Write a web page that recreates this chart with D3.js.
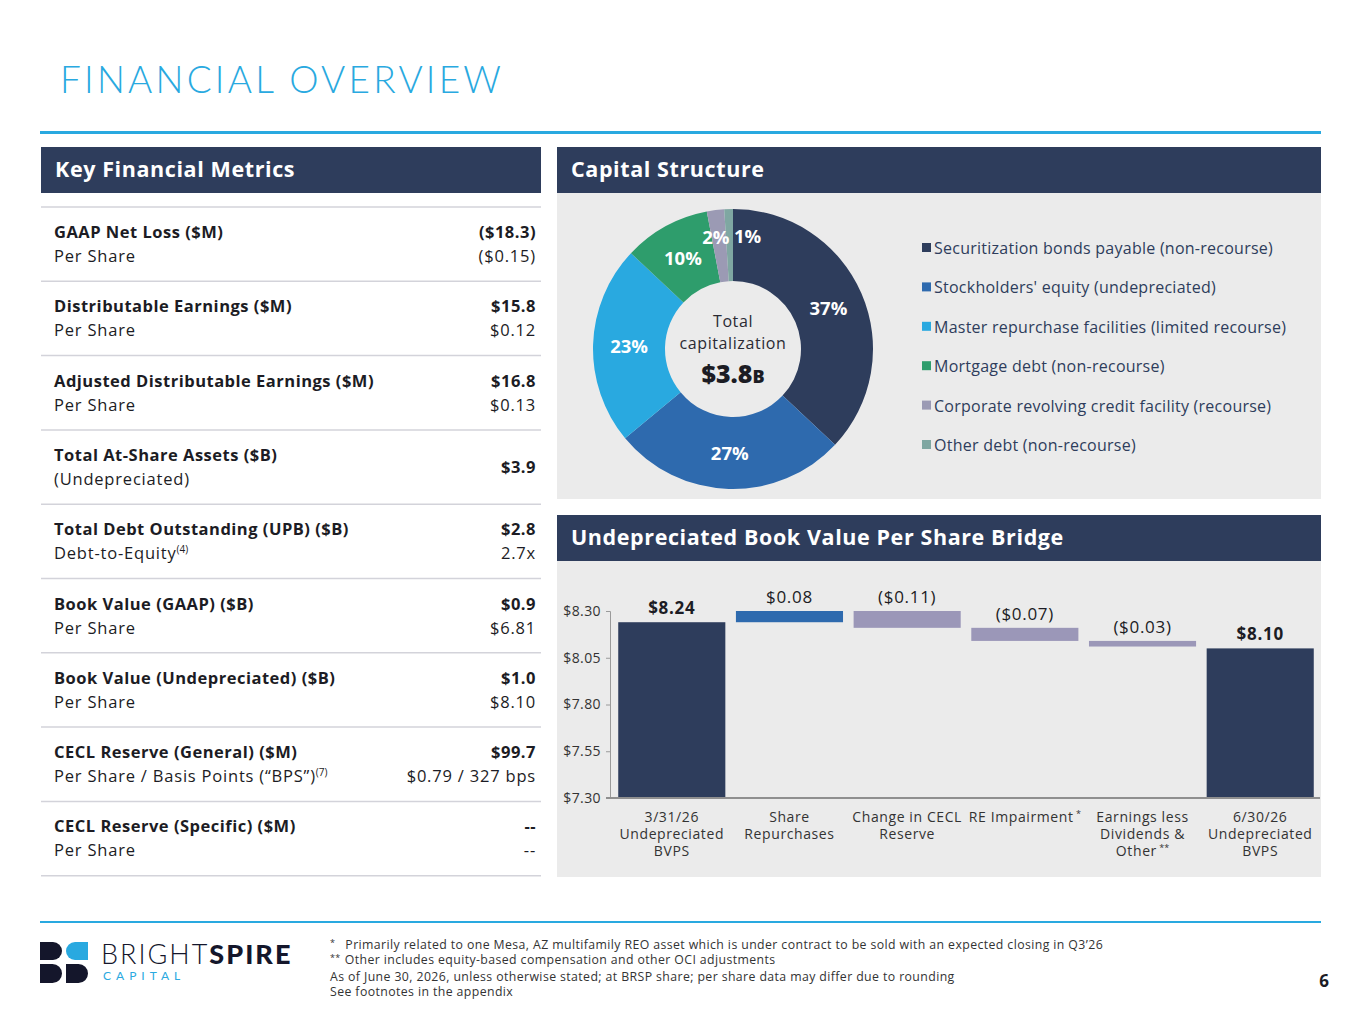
<!DOCTYPE html>
<html>
<head>
<meta charset="utf-8">
<script src="https://cdn.jsdelivr.net/npm/d3@7"></script>
<style>
  body { margin: 0; background: #fff; }
  svg { display: block; font-family: "Open Sans", Lato, sans-serif; }
</style>
</head>
<body>
<div id="page"></div>
<script>
// key metrics table
var metricNames = ["GAAP Net Loss ($M)", "Distributable Earnings ($M)", "Adjusted Distributable Earnings ($M)",
  "Total At-Share Assets ($B)", "Total Debt Outstanding (UPB) ($B)", "Book Value (GAAP) ($B)",
  "Book Value (Undepreciated) ($B)", "CECL Reserve (General) ($M)", "CECL Reserve (Specific) ($M)"];
var metricSubs = ["Per Share", "Per Share", "Per Share", "(Undepreciated)", "Debt-to-Equity", "Per Share",
  "Per Share", "Per Share / Basis Points (\u201CBPS\u201D)", "Per Share"];
var metricSubNotes = ["", "", "", "", "(4)", "", "", "(7)", ""];
var metricValues = ["($18.3)", "$15.8", "$16.8", "$3.9", "$2.8", "$0.9", "$1.0", "$99.7", "--"];
var metricSubValues = ["($0.15)", "$0.12", "$0.13", "", "2.7x", "$6.81", "$8.10", "$0.79 / 327 bps", "--"];

// capital structure donut
var capLabels = ["Securitization bonds payable (non-recourse)", "Stockholders' equity (undepreciated)",
  "Master repurchase facilities (limited recourse)", "Mortgage debt (non-recourse)",
  "Corporate revolving credit facility (recourse)", "Other debt (non-recourse)"];
var capPct = [37, 27, 23, 10, 2, 1];
var capColors = ["#2E3D5C", "#2E6AAE", "#29A9E0", "#2E9D6C", "#9B9AB4", "#7FA7A2"];

// book value bridge
var bridgeCats = [["3/31/26", "Undepreciated", "BVPS"], ["Share", "Repurchases"], ["Change in CECL", "Reserve"],
  ["RE Impairment"], ["Earnings less", "Dividends &", "Other"], ["6/30/26", "Undepreciated", "BVPS"]];
var bridgeNotes = ["", "", "", "*", "**", ""];
var bridgeStart = 8.24;
var bridgeDeltas = [0.08, -0.11, -0.07, -0.03];
var bridgeEnd = 8.10;
var bridgeTicks = [7.30, 7.55, 7.80, 8.05, 8.30];

var navy = "#2E3D5C", sky = "#29A9E0", panel = "#EBEBEB", ink = "#1C1C24";

var svg = d3.select("#page").append("svg").attr("width", 1365).attr("height", 1024);

// title + rules
svg.append("text").attr("x", 60).attr("y", 93).attr("fill", sky)
  .style("font-family", "Lato, sans-serif")
  .style("font-size", "37px").style("font-weight", 300).style("letter-spacing", "3.2px")
  .text("FINANCIAL OVERVIEW");
svg.append("rect").attr("x", 40).attr("y", 131).attr("width", 1281).attr("height", 3).attr("fill", sky);
svg.append("rect").attr("x", 40).attr("y", 921).attr("width", 1281).attr("height", 2).attr("fill", sky);

function header(x, y, w, label) {
  svg.append("rect").attr("x", x).attr("y", y).attr("width", w).attr("height", 46).attr("fill", navy);
  svg.append("text").attr("x", x + 14).attr("y", y + 30).attr("fill", "#fff")
    .style("font-size", "21.5px").style("font-weight", 700).style("letter-spacing", "0.6px").text(label);
}
header(41, 147, 500, "Key Financial Metrics");
header(557, 147, 764, "Capital Structure");
svg.append("rect").attr("x", 557).attr("y", 193).attr("width", 764).attr("height", 306).attr("fill", panel);
header(557, 515, 764, "Undepreciated Book Value Per Share Bridge");
svg.append("rect").attr("x", 557).attr("y", 561).attr("width", 764).attr("height", 316).attr("fill", panel);

// ---- table
var rowH = 74.3, tableTop = 207;
var rows = svg.append("g").selectAll("g").data(metricNames).enter().append("g")
  .attr("transform", function(d, i) { return "translate(0," + (tableTop + i * rowH) + ")"; });
rows.append("line").attr("x1", 41).attr("x2", 541).attr("y1", 0).attr("y2", 0)
  .attr("stroke", "#D3D3DA").attr("stroke-width", 1.5);
rows.append("text").attr("x", 54).attr("y", 31).attr("fill", ink)
  .style("font-size", "16.5px").style("font-weight", 700).style("letter-spacing", "0.5px")
  .text(function(d) { return d; });
var subs = rows.append("text").attr("x", 54).attr("y", 55).attr("fill", ink)
  .style("font-size", "16.5px").style("letter-spacing", "0.8px");
subs.append("tspan").text(function(d, i) { return metricSubs[i]; });
subs.append("tspan").attr("dy", -6).style("font-size", "10px").style("letter-spacing", "0px")
  .text(function(d, i) { return metricSubNotes[i]; });
rows.append("text").attr("x", 536).attr("fill", ink).attr("text-anchor", "end")
  .attr("y", function(d, i) { return metricSubValues[i] ? 31 : 43; })
  .style("font-size", "16.5px").style("font-weight", 700).style("letter-spacing", "0.5px")
  .text(function(d, i) { return metricValues[i]; });
rows.append("text").attr("x", 536).attr("y", 55).attr("fill", ink).attr("text-anchor", "end")
  .style("font-size", "16.5px").style("letter-spacing", "0.8px").text(function(d, i) { return metricSubValues[i]; });
svg.append("line").attr("x1", 41).attr("x2", 541)
  .attr("y1", tableTop + metricNames.length * rowH).attr("y2", tableTop + metricNames.length * rowH)
  .attr("stroke", "#D3D3DA").attr("stroke-width", 1.5);

// ---- donut
var cx = 733, cy = 349, rOut = 140, rIn = 68;
var pie = d3.pie().sort(null).value(function(d) { return d; });
var arc = d3.arc().innerRadius(rIn).outerRadius(rOut);
var slices = pie(capPct);
var dg = svg.append("g").attr("transform", "translate(" + cx + "," + cy + ")");
dg.selectAll("path").data(slices).enter().append("path")
  .attr("d", arc).attr("fill", function(d, i) { return capColors[i]; });
dg.selectAll("text.pct").data(slices).enter().append("text").attr("class", "pct")
  .each(function(d) {
    var small = d.data < 3;
    var c = d3.arc().innerRadius(small ? 113 : 104).outerRadius(small ? 113 : 104).centroid(d);
    var last = d.endAngle > 2 * Math.PI - 0.001;
    d3.select(this).attr("x", last ? 1 : c[0] - (small ? 3 : 0)).attr("y", c[1] + 7)
      .attr("text-anchor", last ? "start" : "middle");
  })
  .attr("fill", "#fff").style("font-size", "18.5px").style("font-weight", 700)
  .text(function(d) { return d.data + "%"; });
dg.append("text").attr("y", -22).attr("text-anchor", "middle").attr("fill", "#2A2A33")
  .style("font-size", "16px").style("letter-spacing", "0.6px").text("Total");
dg.append("text").attr("y", 0).attr("text-anchor", "middle").attr("fill", "#2A2A33")
  .style("font-size", "16px").style("letter-spacing", "0.6px").text("capitalization");
var big = dg.append("text").attr("y", 34).attr("text-anchor", "middle").attr("fill", ink).style("font-weight", 800);
big.append("tspan").style("font-size", "25px").text("$3.8");
big.append("tspan").style("font-size", "18px").text("B");

var leg = svg.append("g").selectAll("g").data(capLabels).enter().append("g")
  .attr("transform", function(d, i) { return "translate(922," + (248 + i * 39.4) + ")"; });
leg.append("rect").attr("x", 0).attr("y", -5).attr("width", 9).attr("height", 9)
  .attr("fill", function(d, i) { return capColors[i]; });
leg.append("text").attr("x", 12).attr("y", 6).attr("fill", navy).style("font-size", "16px")
  .style("letter-spacing", "0.25px").text(function(d) { return d; });

// ---- bridge
var y = d3.scaleLinear().domain([7.30, 8.30]).range([798, 611]);
var x = d3.scaleBand().domain(d3.range(bridgeCats.length)).range([610, 1322])
  .paddingInner(0.09).paddingOuter(0.07);

var steps = [{lo: y.domain()[0], hi: bridgeStart, kind: "total", label: "$" + bridgeStart.toFixed(2)}];
var run = bridgeStart;
bridgeDeltas.forEach(function(d) {
  var next = run + d;
  steps.push({lo: Math.min(run, next), hi: Math.max(run, next), kind: d > 0 ? "up" : "down",
    label: d > 0 ? "$" + d.toFixed(2) : "($" + Math.abs(d).toFixed(2) + ")"});
  run = next;
});
steps.push({lo: y.domain()[0], hi: bridgeEnd, kind: "total", label: "$" + bridgeEnd.toFixed(2)});
var fillFor = {total: navy, up: "#2E6AAE", down: "#9B97B8"};

svg.append("clipPath").attr("id", "plotclip").append("rect")
  .attr("x", 600).attr("y", y.range()[1]).attr("width", 730).attr("height", y.range()[0] - y.range()[1]);
var bg = svg.append("g");
bg.selectAll("rect").data(steps).enter().append("rect").attr("clip-path", "url(#plotclip)")
  .attr("x", function(d, i) { return x(i); }).attr("width", x.bandwidth())
  .attr("y", function(d) { return y(d.hi); })
  .attr("height", function(d) { return Math.max(y(d.lo) - y(d.hi), 1); })
  .attr("fill", function(d) { return fillFor[d.kind]; });
bg.selectAll("text.val").data(steps).enter().append("text").attr("class", "val")
  .attr("x", function(d, i) { return x(i) + x.bandwidth() / 2; })
  .attr("y", function(d) { return Math.max(y(d.hi), y.range()[1]) - 8; })
  .attr("text-anchor", "middle").attr("fill", ink).style("font-size", "17px")
  .style("letter-spacing", "0.7px")
  .style("font-weight", function(d) { return d.kind === "total" ? 700 : 400; })
  .text(function(d) { return d.label; });

var yAxis = svg.append("g").attr("transform", "translate(610,0)")
  .call(d3.axisLeft(y).tickValues(bridgeTicks).tickSize(4).tickPadding(5)
    .tickFormat(function(d) { return "$" + d.toFixed(2); }));
yAxis.select(".domain").attr("stroke", "#9A9A9A");
yAxis.selectAll(".tick line").attr("stroke", "#9A9A9A");
yAxis.selectAll("text").attr("fill", "#333").style("font-size", "14px").style("letter-spacing", "0.4px")
  .style("font-family", "'Open Sans', sans-serif");
svg.append("line").attr("x1", 606).attr("x2", 1320).attr("y1", y(7.30)).attr("y2", y(7.30))
  .attr("stroke", "#8F8F8F").attr("stroke-width", 2);

var cats = svg.append("g").selectAll("text").data(bridgeCats).enter().append("text")
  .attr("text-anchor", "middle").attr("fill", "#333").style("font-size", "14px").style("letter-spacing", "0.6px")
  .attr("transform", function(d, i) { return "translate(" + (x(i) + x.bandwidth() / 2) + ",822)"; });
cats.each(function(d, i) {
  var t = d3.select(this);
  d.forEach(function(line, j) {
    t.append("tspan").attr("x", 0).attr("y", j * 17).text(line);
  });
  if (bridgeNotes[i]) t.append("tspan").attr("dy", -5).style("font-size", "9px").style("letter-spacing", "0px")
    .text(" " + bridgeNotes[i]);
});

// ---- footer: logo, notes, page number
var logo = svg.append("g").attr("transform", "translate(40,942)");
function dShape(x0, y0, w, h, flip) {
  var r = h / 2;
  if (!flip) return "M" + x0 + "," + y0 + "H" + (x0 + w - r) + "A" + r + "," + r + " 0 0 1 " + (x0 + w - r) + "," + (y0 + h) + "H" + x0 + "Z";
  return "M" + (x0 + w) + "," + y0 + "H" + (x0 + r) + "A" + r + "," + r + " 0 0 0 " + (x0 + r) + "," + (y0 + h) + "H" + (x0 + w) + "Z";
}
logo.append("path").attr("d", dShape(0, 0, 22, 18, false)).attr("fill", "#14162B");
logo.append("path").attr("d", dShape(26, 0, 22, 18, true)).attr("fill", sky);
logo.append("path").attr("d", dShape(0, 22, 22, 19, false)).attr("fill", "#14162B");
logo.append("path").attr("d", dShape(26, 22, 22, 19, false)).attr("fill", "#14162B");
var brand = svg.append("text").attr("x", 101).attr("y", 964).attr("fill", "#14162B").style("font-size", "27px")
  .style("font-family", "Lato, sans-serif").style("letter-spacing", "2px");
brand.append("tspan").style("font-weight", 300).text("BRIGHT");
brand.append("tspan").style("font-weight", 900).text("SPIRE");
svg.append("text").attr("x", 103).attr("y", 980).attr("fill", sky).style("font-size", "12px")
  .style("font-family", "Lato, sans-serif").style("letter-spacing", "5px").text("CAPITAL");

var noteLines = [
  ["*", "Primarily related to one Mesa, AZ multifamily REO asset which is under contract to be sold with an expected closing in Q3\u201926"],
  ["**", "Other includes equity-based compensation and other OCI adjustments"],
  ["", "As of June 30, 2026, unless otherwise stated; at BRSP share; per share data may differ due to rounding"],
  ["", "See footnotes in the appendix"]];
var notes = svg.append("g").selectAll("text").data(noteLines).enter().append("text")
  .attr("x", 330).attr("y", function(d, i) { return 949 + i * 14.5; })
  .attr("fill", "#333").style("font-size", "12.3px").style("letter-spacing", "0.4px");
notes.append("tspan").attr("dy", -3).style("font-size", "9px").text(function(d) { return d[0]; });
notes.append("tspan").attr("dy", 3).attr("dx", function(d, i) { return i === 0 ? 10 : (d[0] ? 4 : 0); })
  .text(function(d) { return d[1]; });

svg.append("text").attr("x", 1329).attr("y", 987).attr("text-anchor", "end").attr("fill", ink)
  .style("font-size", "17px").style("font-weight", 700).text("6");
</script>
</body>
</html>
